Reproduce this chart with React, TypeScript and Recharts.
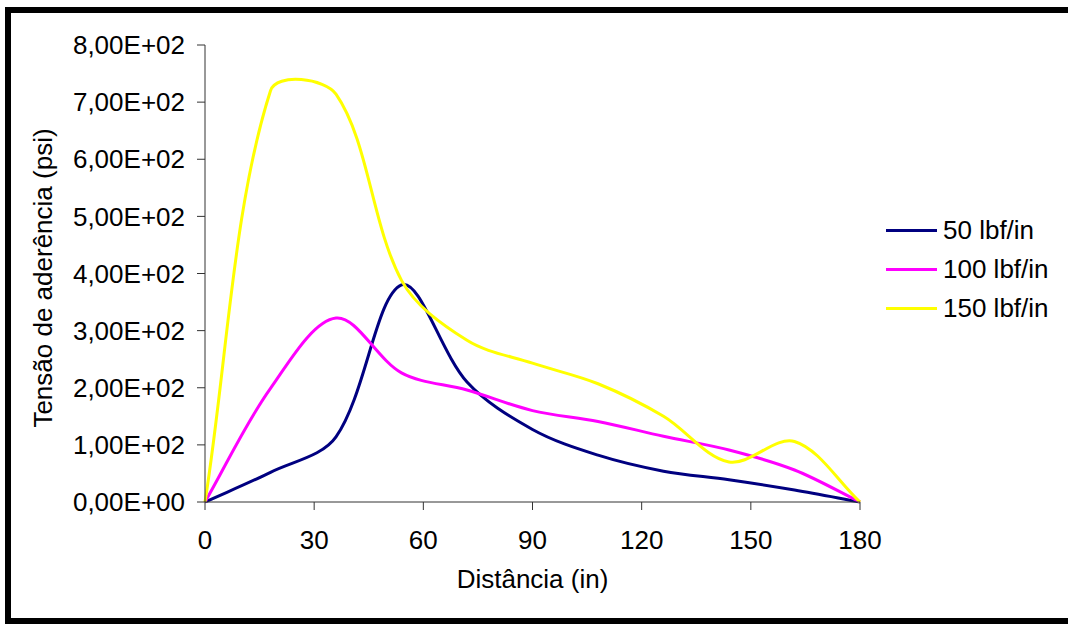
import { LineChart, Line, XAxis, YAxis, Legend } from 'recharts';

// distância (in) dos pontos medidos
const distancia = [0, 18, 36, 54, 72, 90, 108, 126, 144, 162, 180];

// tensão de aderência (psi) por carga
const tensao50 = [0, 52, 114, 380, 210, 127, 82, 54, 39, 21, 0];
const tensao100 = [0, 199, 322, 226, 196, 160, 141, 115, 91, 56, 0];
const tensao150 = [0, 720, 714, 388, 283, 243, 207, 150, 70, 106, 0];

const seriesNames = ['50 lbf/in', '100 lbf/in', '150 lbf/in'];
const seriesColors = ['#000080', '#FF00FF', '#FFFF00'];

const xTicks = [0, 30, 60, 90, 120, 150, 180];
const yTicks = [0, 100, 200, 300, 400, 500, 600, 700, 800];

const FONT = '"Liberation Sans", Arial, sans-serif';

const toPoints = (values: number[]) => distancia.map((x, i) => ({ x, y: values[i] }));

// 8.00e+2 -> 8,00E+02
const sciComma = (v: number) => {
    const [m, e] = v.toExponential(2).split('e');
    const sign = e.startsWith('-') ? '-' : '+';
    const exp = e.replace(/[+-]/, '').padStart(2, '0');
    return `${m.replace('.', ',')}E${sign}${exp}`;
};

// suavização parecida com a do Excel (Catmull-Rom ponderado pela distância)
function excelSmooth(context: any) {
    let pts: [number, number][] = [];
    return {
        areaStart() {},
        areaEnd() {},
        lineStart() {
            pts = [];
        },
        point(x: number, y: number) {
            pts.push([+x, +y]);
        },
        lineEnd() {
            const n = pts.length;
            if (!n) return;
            context.moveTo(pts[0][0], pts[0][1]);
            const dist = (a: number[], b: number[]) => Math.hypot(b[0] - a[0], b[1] - a[1]);
            for (let i = 0; i < n - 1; i++) {
                const p0 = pts[Math.max(i - 1, 0)];
                const p1 = pts[i];
                const p2 = pts[i + 1];
                const p3 = pts[Math.min(i + 2, n - 1)];
                const d01 = dist(p0, p1);
                const d12 = dist(p1, p2);
                const d23 = dist(p2, p3);
                const f1 = d01 + d12 > 0 ? d12 / (d01 + d12) / 3 : 0;
                const f2 = d12 + d23 > 0 ? d12 / (d12 + d23) / 3 : 0;
                context.bezierCurveTo(
                    p1[0] + (p2[0] - p0[0]) * f1,
                    p1[1] + (p2[1] - p0[1]) * f1,
                    p2[0] - (p3[0] - p1[0]) * f2,
                    p2[1] - (p3[1] - p1[1]) * f2,
                    p2[0],
                    p2[1]
                );
            }
        },
    };
}

const series = [tensao50, tensao100, tensao150];

function LegendBox() {
    return (
        <div style={{ fontFamily: FONT, fontSize: 26, color: '#000' }}>
            {seriesNames.map((name, i) => (
                <div key={name} style={{ display: 'flex', alignItems: 'center', height: 39 }}>
                    <span style={{ width: 51, height: 3, background: seriesColors[i], marginRight: 6 }} />
                    <span style={{ lineHeight: '39px' }}>{name}</span>
                </div>
            ))}
        </div>
    );
}

export default function App() {
    return (
        <div
            style={{
                position: 'fixed',
                left: 0,
                top: 0,
                width: 1068,
                height: 624,
                background: '#fff',
                overflow: 'hidden',
                fontFamily: FONT,
            }}
        >
            <div
                style={{
                    position: 'absolute',
                    left: 5,
                    top: 7,
                    width: 1080,
                    height: 617,
                    boxSizing: 'border-box',
                    border: '6px solid #000',
                }}
            />
            <div style={{ position: 'absolute', left: 0, top: 0 }}>
                <LineChart
                    width={1068}
                    height={624}
                    margin={{ top: 45, right: 208, bottom: 92, left: 145 }}
                >
                    <XAxis
                        type="number"
                        dataKey="x"
                        domain={[0, 180]}
                        ticks={xTicks}
                        height={30}
                        allowDuplicatedCategory={false}
                        stroke="#333"
                        tickSize={8}
                        tickMargin={21}
                        tick={{ fill: '#000', fontSize: 26, fontFamily: FONT }}
                        label={{
                            value: 'Distância (in)',
                            position: 'bottom',
                            offset: 38,
                            fill: '#000',
                            fontSize: 26,
                            fontFamily: FONT,
                        }}
                    />
                    <YAxis
                        type="number"
                        dataKey="y"
                        domain={[0, 800]}
                        ticks={yTicks}
                        width={60}
                        stroke="#333"
                        tickSize={8}
                        tickMargin={12}
                        tickFormatter={sciComma}
                        tick={{ fill: '#000', fontSize: 26, fontFamily: FONT }}
                        label={{
                            content: () => (
                                <text
                                    x={52}
                                    y={278}
                                    transform="rotate(-90, 52, 278)"
                                    textAnchor="middle"
                                    fill="#000"
                                    fontSize={26}
                                    fontFamily={FONT}
                                >
                                    Tensão de aderência (psi)
                                </text>
                            ),
                        }}
                    />
                    <Legend
                        layout="vertical"
                        align="center"
                        verticalAlign="middle"
                        content={<LegendBox />}
                        wrapperStyle={{ left: 886, top: 211, width: 180, right: 'auto' }}
                    />
                    {series.map((values, i) => (
                        <Line
                            key={seriesNames[i]}
                            data={toPoints(values)}
                            dataKey="y"
                            name={seriesNames[i]}
                            type={excelSmooth as any}
                            stroke={seriesColors[i]}
                            strokeWidth={3}
                            dot={false}
                            activeDot={false}
                            isAnimationActive={false}
                        />
                    ))}
                </LineChart>
            </div>
        </div>
    );
}
